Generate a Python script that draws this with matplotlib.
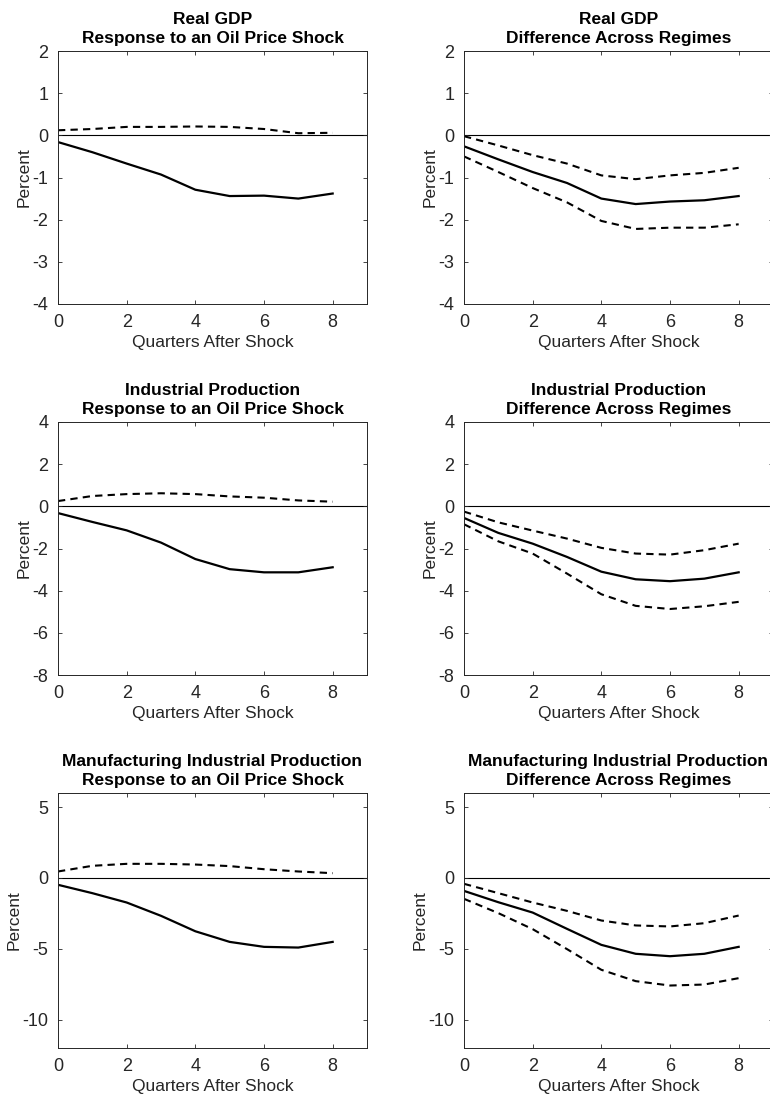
import matplotlib
matplotlib.use("Agg")
import matplotlib.pyplot as plt

plt.rcParams['font.family'] = ['Liberation Sans', 'DejaVu Sans']
plt.rcParams['axes.unicode_minus'] = False

quarters = [0, 1, 2, 3, 4, 5, 6, 7, 8]

# Real GDP
gdp_resp = [-0.16, -0.40, -0.67, -0.93, -1.29, -1.44, -1.43, -1.50, -1.38]
gdp_resp_band = [0.12, 0.15, 0.20, 0.20, 0.21, 0.20, 0.15, 0.05, 0.06]
gdp_diff = [-0.26, -0.57, -0.87, -1.13, -1.50, -1.63, -1.57, -1.54, -1.44]
gdp_diff_hi = [-0.02, -0.24, -0.47, -0.67, -0.95, -1.04, -0.95, -0.89, -0.77]
gdp_diff_lo = [-0.50, -0.87, -1.25, -1.59, -2.03, -2.22, -2.19, -2.19, -2.11]

# Industrial production
ip_resp = [-0.32, -0.74, -1.14, -1.72, -2.50, -2.98, -3.13, -3.13, -2.89]
ip_resp_band = [0.25, 0.49, 0.58, 0.62, 0.58, 0.47, 0.41, 0.28, 0.22]
ip_diff = [-0.55, -1.26, -1.77, -2.40, -3.10, -3.46, -3.55, -3.43, -3.13]
ip_diff_hi = [-0.25, -0.76, -1.15, -1.53, -1.97, -2.24, -2.29, -2.08, -1.77]
ip_diff_lo = [-0.85, -1.66, -2.24, -3.19, -4.17, -4.72, -4.87, -4.74, -4.53]

# Manufacturing industrial production
mip_resp = [-0.48, -1.07, -1.73, -2.67, -3.76, -4.51, -4.86, -4.91, -4.51]
mip_resp_band = [0.46, 0.86, 1.00, 1.00, 0.95, 0.84, 0.62, 0.46, 0.34]
mip_diff = [-0.91, -1.71, -2.44, -3.59, -4.72, -5.35, -5.52, -5.35, -4.86]
mip_diff_hi = [-0.41, -1.07, -1.73, -2.32, -3.00, -3.35, -3.42, -3.19, -2.65]
mip_diff_lo = [-1.47, -2.48, -3.61, -5.02, -6.48, -7.28, -7.59, -7.52, -7.07]

series_names = ["Real GDP", "Industrial Production",
                "Manufacturing Industrial Production"]
subtitles = ["Response to an Oil Price Shock", "Difference Across Regimes"]

ylims = [(-4, 2), (-8, 4), (-12, 6)]
yticks = [[-4, -3, -2, -1, 0, 1, 2], [-8, -6, -4, -2, 0, 2, 4], [-10, -5, 0, 5]]
xticks = [0, 2, 4, 6, 8]

panels = [
    [(gdp_resp, [gdp_resp_band]), (gdp_diff, [gdp_diff_hi, gdp_diff_lo])],
    [(ip_resp, [ip_resp_band]), (ip_diff, [ip_diff_hi, ip_diff_lo])],
    [(mip_resp, [mip_resp_band]), (mip_diff, [mip_diff_hi, mip_diff_lo])],
]

W, H = 770, 1096
fig = plt.figure(figsize=(W / 100, H / 100), dpi=100)

col_left = [58, 464]
ax_w = 309
rows = [(51, 304), (422, 675), (793, 1048)]
ylabel_x = [-0.085, -0.085, -0.117]

axis_gray = (0.15, 0.15, 0.15)

for r, (top, bot) in enumerate(rows):
    for c in range(2):
        ax = fig.add_axes([col_left[c] / W, 1 - bot / H, ax_w / W, (bot - top) / H])
        main, bands = panels[r][c]
        ax.axhline(0, color='black', lw=0.8, zorder=1)
        for b in bands:
            ax.plot(quarters, b, color='black', lw=1.5, ls=(0, (3.5, 2.5)))
        ax.plot(quarters, main, color='black', lw=1.6)
        ax.set_xlim(0, 9)
        ax.set_ylim(*ylims[r])
        ax.set_xticks(xticks)
        ax.set_yticks(yticks[r])
        ax.tick_params(direction='in', length=3, width=0.6, colors=axis_gray,
                       labelsize=13, top=True, right=True, pad=7,
                       labelcolor=axis_gray)
        for s in ax.spines.values():
            s.set_color(axis_gray)
            s.set_linewidth(0.7)
        ax.set_xlabel("Quarters After Shock", fontsize=12.5, color=axis_gray,
                      labelpad=3)
        ax.set_ylabel("Percent", fontsize=12.5, color=axis_gray)
        ax.yaxis.set_label_coords(ylabel_x[r], 0.5)
        ax.set_title(series_names[r] + "\n" + subtitles[c], fontsize=12.5,
                     fontweight='bold', color='black', pad=6, linespacing=1.3)

fig.savefig("out.png", dpi=100)
